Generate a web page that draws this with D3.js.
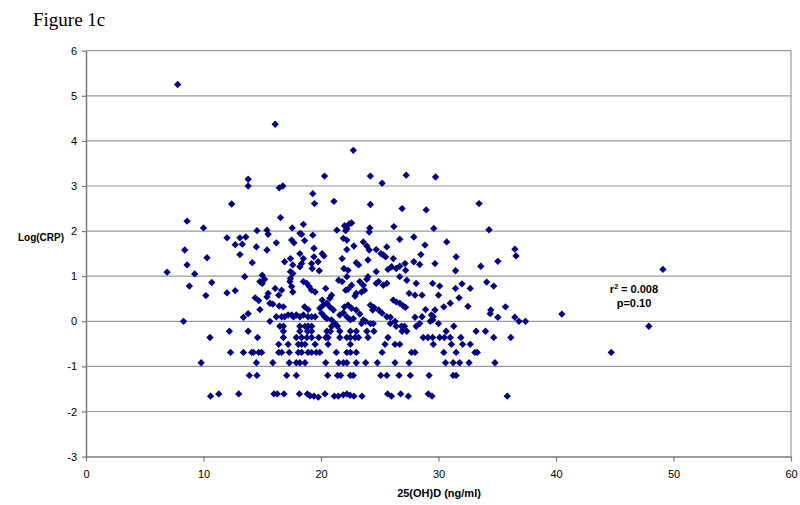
<!DOCTYPE html>
<html>
<head>
<meta charset="utf-8">
<script src="https://cdnjs.cloudflare.com/ajax/libs/d3/7.8.5/d3.min.js"></script>
<style>
  body { margin: 0; background: #fff; }
  svg { display: block; }
  .tick text { font-family: "Liberation Sans", Arial, sans-serif; font-size: 11px; fill: #000; }
</style>
</head>
<body>
<svg width="800" height="505"></svg>
<script>
// 25(OH)D (ng/ml) vs Log(CRP)
var highPoints = [
  [7.8,5.25],[16.1,4.37],[22.75,3.79],[13.8,3.15],[13.8,3.0],[16.45,2.96],[16.75,3.0],[20.3,3.22],
  [24.2,3.22],[27.25,3.24],[29.75,3.2],[25.2,3.06],[19.3,2.83],[19.45,2.61],[21.1,2.66],[24.2,2.59],
  [26.9,2.5],[28.95,2.47],[12.4,2.6],[33.45,2.61],[16.55,2.3],[8.6,2.22],[10.0,2.07],[14.55,2.01],
  [15.4,2.02],[15.5,1.93],[17.55,2.07],[18.5,2.15],[18.2,1.95],[18.35,1.93],[19.3,1.91],[21.35,2.02],
  [22.0,2.12],[22.2,2.05],[22.4,2.16],[22.6,2.18],[22.1,2.01],[24.15,2.07],[24.1,1.98],[26.2,2.1],
  [29.6,2.06],[34.3,2.03],[12.0,1.85],[13.1,1.85],[13.6,1.87]
];

var upperPoints = [
  [8.4,1.58],[12.7,1.70],[13.3,1.71],[13.1,1.48],[14.5,1.65],[10.3,1.41],[8.6,1.25],[6.9,1.09],
  [9.25,1.05],[14.15,1.30],[13.5,0.99],[8.8,0.78],[10.7,0.86],[10.2,0.57],[12.0,0.63],[12.7,0.68],
  [14.4,0.52],[14.7,0.46],[17.5,1.8],[17.7,1.74],[16.2,1.74],[15.4,1.58],[18.6,1.79],[19.4,1.62],
  [21.9,1.84],[22.2,1.8],[22.2,1.59],[22.8,1.67],[23.6,1.76],[23.9,1.67],[24.1,1.58],[24.7,1.59],
  [25.1,1.5],[25.3,1.47],[25.5,1.43],[25.6,1.65],[26.7,1.82],[27.9,1.87],[28.85,1.69],[28.5,1.48],
  [16.9,1.32],[17.4,1.39],[17.6,1.25],[17.4,1.1],[17.6,1.06],[18.2,1.5],[18.5,1.39],[18.35,1.28],
  [18.2,1.21],[19.2,1.28],[19.4,1.43],[19.75,1.32],[19.25,1.17],[19.85,1.12],[20.1,1.5],[20.25,1.45],
  [21.8,1.39],[21.95,1.17],[23.0,1.3],[23.2,1.25],[22.3,1.13],[24.0,1.36],[24.7,1.1],[26.15,1.39],
  [25.7,1.15],[26.0,1.21],[26.4,1.17],[26.7,1.22],[27.15,1.28],[27.2,1.13],[27.9,1.32],[28.4,1.26],
  [29.7,1.28],[30.7,1.76],[36.5,1.6],[36.6,1.45],[31.5,1.43],[35.05,1.33],[33.6,1.22],[31.45,1.12],
  [49.1,1.15],[15.0,1.02],[15.2,0.93],[15.0,0.84],[14.8,0.88],[15.5,0.62],[15.4,0.54],[16.1,0.73],
  [16.65,0.69],[16.4,0.58],[17.35,0.88],[17.5,0.77],[17.6,0.65],[17.4,0.95],[18.5,0.88],[18.8,0.84],
  [19.0,0.77],[19.2,0.69],[19.5,0.65],[20.4,0.73],[20.1,0.47],[20.9,0.58],[20.75,0.51],[21.5,0.91],
  [21.8,0.88],[22.2,0.99],[22.1,0.69],[22.3,0.71],[22.6,0.8],[23.0,0.62],[22.9,0.56],[23.3,0.88],
  [23.6,0.8],[23.9,0.93],[24.0,0.99],[23.7,0.69],[23.45,0.65],[24.7,0.84],[24.9,0.88],[25.3,0.8],
  [25.6,0.84],[26.15,0.47],[26.4,0.43],[27.5,0.62],[28.0,0.58],[28.6,0.58],[26.7,0.99],[27.3,0.91],
  [28.1,0.84],[29.5,0.84],[30.1,0.78],[30.0,0.58],[32.0,0.83],[31.45,0.73],[32.7,0.73],[34.1,0.87],
  [34.7,0.78],[31.75,0.52]
];

var middlePoints = [
  [13.8,0.17],[13.4,0.09],[14.8,0.26],[8.3,0.0],[15.65,0.4],[15.9,0.38],[16.45,0.34],[16.8,0.32],
  [26.7,0.4],[27.0,0.34],[27.2,0.31],[24.2,0.36],[24.5,0.31],[24.4,0.25],[28.9,0.26],[29.7,0.25],
  [28.6,0.1],[28.0,0.09],[29.4,0.14],[29.55,0.1],[15.65,0.0],[16.2,0.1],[16.65,0.1],[16.9,0.1],
  [17.2,0.14],[17.5,0.14],[17.65,0.1],[17.9,0.14],[18.2,0.1],[18.5,0.14],[18.9,0.1],[19.2,0.1],
  [19.5,0.1],[18.6,0.32],[18.9,0.26],[19.9,0.29],[20.2,0.36],[20.5,0.4],[20.75,0.32],[21.05,0.25],
  [20.05,0.18],[20.3,0.1],[20.5,0.06],[20.9,0.03],[21.2,-0.05],[21.4,-0.11],[21.6,0.14],[21.9,0.19],
  [22.2,0.1],[22.5,0.03],[22.75,0.06],[22.0,0.32],[22.3,0.36],[22.6,0.29],[23.0,0.25],[23.3,0.16],
  [23.6,0.03],[23.8,0.0],[25.2,0.18],[25.6,0.1],[25.9,0.09],[24.9,0.25],[26.3,0.0],[26.4,-0.11],
  [26.85,-0.11],[27.1,-0.11],[28.1,-0.11],[29.3,0.0],[29.5,0.03],[16.5,-0.11],[16.8,-0.11],
  [18.2,-0.11],[18.65,-0.11],[18.9,-0.11],[19.2,-0.11],[20.9,-0.11],[23.45,-0.05],[24.2,-0.05],
  [24.45,-0.05],[25.9,-0.05],[28.4,-0.05],[30.0,-0.05],[31.0,0.4],[30.45,0.32],[32.5,0.33],
  [34.45,0.25],[34.4,0.17],[35.7,0.32],[35.05,0.09],[36.5,0.09],[36.85,0.0],[37.4,0.0],[40.5,0.16],
  [31.3,-0.11],[47.9,-0.11]
];

var lowerPoints = [
  // ln 0.8
  [12.2,-0.22],[13.8,-0.22],[16.8,-0.22],[18.2,-0.22],[18.85,-0.22],[19.2,-0.22],[20.5,-0.22],
  [20.8,-0.22],[21.6,-0.22],[22.5,-0.22],[23.0,-0.22],[23.9,-0.22],[24.5,-0.22],[26.9,-0.22],
  [27.3,-0.22],[30.65,-0.22],[33.2,-0.22],[34.0,-0.22],
  // ln 0.7
  [10.55,-0.36],[14.6,-0.36],[16.8,-0.36],[17.9,-0.36],[18.35,-0.36],[18.8,-0.36],[19.2,-0.36],
  [19.8,-0.36],[20.4,-0.36],[20.6,-0.36],[21.6,-0.36],[22.2,-0.36],[22.5,-0.36],[22.9,-0.36],
  [23.2,-0.36],[24.0,-0.36],[25.7,-0.36],[28.7,-0.36],[29.1,-0.36],[29.5,-0.36],[30.1,-0.36],
  [30.5,-0.36],[31.0,-0.36],[31.9,-0.36],[34.7,-0.36],[36.15,-0.36],
  // ln 0.6
  [16.4,-0.51],[17.2,-0.51],[18.07,-0.51],[18.35,-0.51],[18.64,-0.51],[19.5,-0.51],[20.6,-0.51],
  [22.5,-0.51],[25.45,-0.51],[26.3,-0.51],[26.7,-0.51],[29.56,-0.51],[31.1,-0.51],[32.05,-0.51],
  [32.7,-0.51],
  // ln 0.5
  [12.3,-0.69],[13.4,-0.69],[14.1,-0.69],[14.25,-0.69],[14.7,-0.69],[14.95,-0.69],[16.4,-0.69],
  [16.65,-0.69],[17.3,-0.69],[18.07,-0.69],[18.35,-0.69],[18.9,-0.69],[19.2,-0.69],[19.6,-0.69],
  [19.9,-0.69],[21.3,-0.69],[22.2,-0.69],[22.5,-0.69],[23.0,-0.69],[25.2,-0.69],[27.7,-0.69],
  [28.0,-0.69],[30.45,-0.69],[31.5,-0.69],[33.1,-0.69],[33.3,-0.69],[44.7,-0.69],
  // ln 0.4
  [9.8,-0.92],[14.5,-0.92],[15.9,-0.92],[17.3,-0.92],[17.9,-0.92],[18.2,-0.92],[18.64,-0.92],
  [20.4,-0.92],[21.5,-0.92],[21.9,-0.92],[22.2,-0.92],[23.0,-0.92],[23.8,-0.92],[24.8,-0.92],
  [26.3,-0.92],[27.5,-0.92],[30.6,-0.92],[31.25,-0.92],[31.8,-0.92],[32.6,-0.92],[34.8,-0.92],
  // ln 0.3
  [13.9,-1.2],[14.55,-1.2],[17.08,-1.2],[17.9,-1.2],[20.57,-1.2],[21.4,-1.2],[21.67,-1.2],
  [22.5,-1.2],[22.75,-1.2],[25.08,-1.2],[25.6,-1.2],[26.64,-1.2],[27.6,-1.2],[29.2,-1.2],
  [31.25,-1.2],[31.5,-1.2]
];

var bottomPoints = [
  [10.6,-1.66],[11.3,-1.61],[13.0,-1.61],[16.0,-1.61],[16.28,-1.61],[16.85,-1.61],[18.16,-1.61],
  [18.84,-1.61],[19.06,-1.65],[19.4,-1.66],[19.77,-1.68],[20.34,-1.61],[21.13,-1.66],[21.47,-1.66],
  [21.9,-1.63],[22.2,-1.61],[22.47,-1.64],[22.8,-1.66],[23.49,-1.66],[25.67,-1.61],[26.0,-1.66],
  [26.78,-1.61],[27.43,-1.66],[29.13,-1.61],[29.45,-1.66],[35.85,-1.66]
];

var xTicks = [0, 10, 20, 30, 40, 50, 60];
var yTicks = [-3, -2, -1, 0, 1, 2, 3, 4, 5, 6];
var statText = ["r", "2", " = 0.008", "p=0.10"];

var points = [].concat(highPoints, upperPoints, middlePoints, lowerPoints, bottomPoints);

var svg = d3.select("svg");
var plotL = 86, plotR = 791, plotT = 50.7, plotB = 456.6;

var x = d3.scaleLinear().domain([0, 60]).range([plotL, plotR]);
var y = d3.scaleLinear().domain([-3, 6]).range([plotB, plotT]);

svg.append("text")
  .attr("x", 33).attr("y", 26)
  .style("font-family", "'Liberation Serif', 'Times New Roman', serif")
  .style("font-size", "19px")
  .text("Figure 1c");

// gridlines
svg.append("g")
  .selectAll("line")
  .data(yTicks.filter(d => d > -3))
  .enter()
  .append("line")
  .attr("x1", plotL).attr("x2", plotR)
  .attr("y1", d => y(d)).attr("y2", d => y(d))
  .style("stroke", "#9a9a9a")
  .style("stroke-width", 1.2);

// right border
svg.append("line")
  .attr("x1", plotR).attr("x2", plotR)
  .attr("y1", plotT).attr("y2", plotB)
  .style("stroke", "#9a9a9a")
  .style("stroke-width", 1.2);

var xAxis = svg.append("g")
  .attr("transform", "translate(0," + plotB + ")")
  .call(d3.axisBottom(x).tickValues(xTicks).tickSize(5).tickSizeOuter(0).tickPadding(9)
    .tickFormat(d => String(d)));

var yAxis = svg.append("g")
  .attr("transform", "translate(" + plotL + ",0)")
  .call(d3.axisLeft(y).tickValues(yTicks).tickSize(4).tickSizeOuter(0).tickPadding(5)
    .tickFormat(d => String(d)));

[xAxis, yAxis].forEach(function (g) {
  g.select(".domain").style("stroke", "#7a7a7a").style("stroke-width", 1.5);
  g.selectAll(".tick line").style("stroke", "#7a7a7a").style("stroke-width", 1.2);
});

var diamond = d3.symbol().type(d3.symbolSquare).size(27);

svg.append("g")
  .selectAll("path")
  .data(points)
  .enter()
  .append("path")
  .attr("d", diamond)
  .attr("transform", d => "translate(" + x(d[0]) + "," + y(d[1]) + ") rotate(45)")
  .style("fill", "#000080");

// axis titles
svg.append("text")
  .attr("x", 41).attr("y", 241)
  .style("text-anchor", "middle")
  .style("font-family", "'Liberation Sans', Arial, sans-serif")
  .style("font-size", "10px")
  .style("font-weight", "bold")
  .text("Log(CRP)");

svg.append("text")
  .attr("x", 439).attr("y", 497)
  .style("text-anchor", "middle")
  .style("font-family", "'Liberation Sans', Arial, sans-serif")
  .style("font-size", "11px")
  .style("font-weight", "bold")
  .text("25(OH)D (ng/ml)");

// r squared annotation
var stat = svg.append("g")
  .style("font-family", "'Liberation Sans', Arial, sans-serif")
  .style("font-size", "11px")
  .style("font-weight", "bold")
  .style("text-anchor", "middle");

var r2 = stat.append("text").attr("x", 634).attr("y", 293);
r2.append("tspan").text(statText[0]);
r2.append("tspan").attr("dy", -4).style("font-size", "7px").text(statText[1]);
r2.append("tspan").attr("dy", 4).text(statText[2]);

stat.append("text").attr("x", 634).attr("y", 307).text(statText[3]);
</script>
</body>
</html>
